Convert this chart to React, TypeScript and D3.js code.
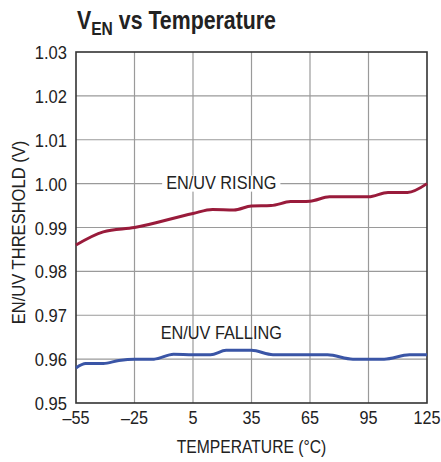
import * as d3 from 'd3'
import React, { useEffect, useRef } from 'react'

// data
const xTicks = [-55, -25, 5, 35, 65, 95, 125]
const yTicks = [0.95, 0.96, 0.97, 0.98, 0.99, 1.0, 1.01, 1.02, 1.03]

const risingTemp = [-55, -41, -25, 5, 15, 26, 35, 45, 55, 65, 75, 95, 105, 115, 125]
const risingV = [0.986, 0.989, 0.990, 0.9932, 0.9941, 0.994, 0.9949, 0.995, 0.9959, 0.996, 0.997, 0.997, 0.998, 0.998, 1.0]

const fallingTemp = [-55, -50, -41, -33, -25, -15, -5, 5, 14, 22, 35, 46, 65, 74, 87, 103, 116, 125]
const fallingV = [0.958, 0.959, 0.959, 0.9597, 0.960, 0.960, 0.9611, 0.961, 0.961, 0.962, 0.962, 0.961, 0.961, 0.961, 0.960, 0.960, 0.961, 0.961]

const FONT = '"Liberation Sans", Arial, sans-serif'

type Sel = d3.Selection<SVGSVGElement | SVGGElement, unknown, null, undefined>

// condensed-looking text: the reference uses a narrow face, so squeeze horizontally
const addText = (
    parent: Sel,
    str: string,
    px: number,
    py: number,
    opts: { size?: number; sx?: number; anchor?: string; rotate?: number; weight?: string } = {},
) => {
    const { size = 18, sx = 0.9, anchor = 'middle', rotate = 0, weight = 'normal' } = opts
    return parent
        .append('text')
        .attr('transform', `translate(${px},${py}) rotate(${rotate}) scale(${sx},1)`)
        .attr('text-anchor', anchor)
        .attr('font-family', FONT)
        .attr('font-size', size)
        .attr('font-weight', weight)
        .attr('fill', '#222')
        .text(str)
}

const App = (): JSX.Element => {
    const ref = useRef<SVGSVGElement>(null)

    useEffect(() => {
        const width = 441
        const height = 462
        const margin = { top: 52, right: 14, bottom: 59, left: 76 }
        const svg = d3.select(ref.current as SVGSVGElement) as unknown as Sel
        svg.selectAll('*').remove()

        const x = d3.scaleLinear().domain([-55, 125]).range([margin.left, width - margin.right])
        const y = d3.scaleLinear().domain([0.95, 1.03]).range([height - margin.bottom, margin.top])

        // grid
        const grid = svg.append('g').attr('stroke', '#9a9a9a').attr('stroke-width', 1.2)
        grid.selectAll('line.v')
            .data(xTicks.slice(1, -1))
            .enter()
            .append('line')
            .attr('x1', (d) => x(d))
            .attr('x2', (d) => x(d))
            .attr('y1', y(0.95))
            .attr('y2', y(1.03))
        grid.selectAll('line.h')
            .data(yTicks.slice(1, -1))
            .enter()
            .append('line')
            .attr('x1', x(-55))
            .attr('x2', x(125))
            .attr('y1', (d) => y(d))
            .attr('y2', (d) => y(d))

        // frame
        svg.append('rect')
            .attr('x', x(-55))
            .attr('y', y(1.03))
            .attr('width', x(125) - x(-55))
            .attr('height', y(0.95) - y(1.03))
            .attr('fill', 'none')
            .attr('stroke', '#333')
            .attr('stroke-width', 1.6)

        const rising = risingTemp.map((t, i) => [x(t), y(risingV[i])] as [number, number])
        const falling = fallingTemp.map((t, i) => [x(t), y(fallingV[i])] as [number, number])

        // label backgrounds + labels (rising label sits on the 1.00 grid line)
        const rl = addText(svg, 'EN/UV RISING', x(19.5), y(1.0) + 5.5, { size: 18.5, sx: 0.88 })
        const bb = (rl.node() as SVGTextElement).getBBox()
        const w = bb.width * 0.88
        svg.insert('rect', 'text')
            .attr('x', x(19.5) - w / 2 - 4)
            .attr('y', y(1.0) - 8)
            .attr('width', w + 8)
            .attr('height', 16)
            .attr('fill', 'white')
        addText(svg, 'EN/UV FALLING', x(19.5), y(0.966) + 6, { size: 18.5, sx: 0.88 })

        svg.append('path')
            .attr('d', d3.line().curve(d3.curveMonotoneX)(rising))
            .attr('fill', 'none')
            .attr('stroke', '#991b3b')
            .attr('stroke-width', 3)
        svg.append('path')
            .attr('d', d3.line().curve(d3.curveMonotoneX)(falling))
            .attr('fill', 'none')
            .attr('stroke', '#3a55a6')
            .attr('stroke-width', 3)

        // tick labels
        yTicks.forEach((d) => {
            addText(svg, d.toFixed(2), margin.left - 9, y(d) + 7, { size: 18, sx: 0.92, anchor: 'end' })
        })
        xTicks.forEach((d) => {
            addText(svg, d < 0 ? `\u2013${Math.abs(d)}` : `${d}`, x(d), height - margin.bottom + 21, {
                size: 18,
                sx: 0.9,
            })
        })

        // axis titles
        addText(svg, 'TEMPERATURE (°C)', (x(-55) + x(125)) / 2, 453, { size: 18, sx: 0.87 })
        addText(svg, 'EN/UV THRESHOLD (V)', 25, 232.5, { size: 18, sx: 0.92, rotate: -90 })

        // title
        const title = svg.append('text')
            .attr('transform', 'translate(77,29) scale(0.82,1)')
            .attr('font-family', FONT)
            .attr('font-weight', 'bold')
            .attr('font-size', 26)
            .attr('fill', '#222')
        title.append('tspan').text('V')
        title.append('tspan').attr('font-size', 19).attr('dy', 6).text('EN')
        title.append('tspan').attr('dy', -6).text(' vs Temperature')
    }, [])

    return (
        <svg
            ref={ref}
            width={441}
            height={462}
            style={{ position: 'absolute', left: 0, top: 0, background: 'white' }}
        />
    )
}

export default App
